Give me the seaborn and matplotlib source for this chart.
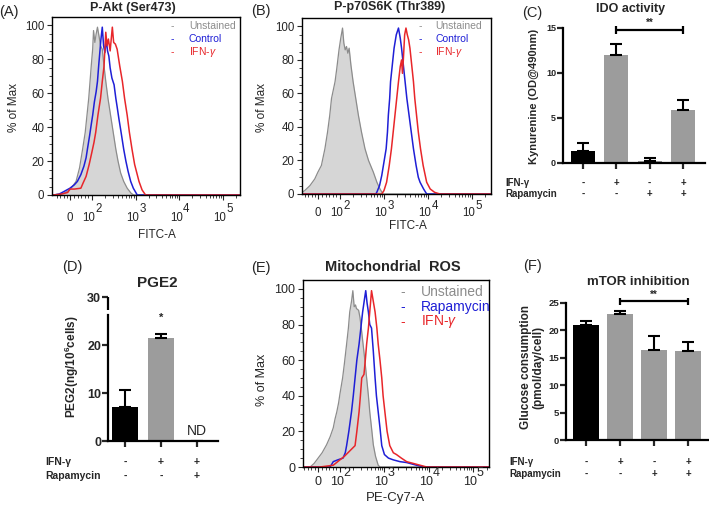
import numpy as np
import pandas as pd
import matplotlib
matplotlib.use("Agg")
import matplotlib.pyplot as plt
import matplotlib.transforms as mtransforms
import seaborn as sns

sns.set_style("ticks")
plt.rcParams["font.family"] = ["Liberation Sans", "DejaVu Sans"]
plt.rcParams["mathtext.fontset"] = "custom"
plt.rcParams["mathtext.rm"] = "Liberation Sans"
plt.rcParams["mathtext.it"] = "Liberation Sans:italic"
plt.rcParams["mathtext.bf"] = "Liberation Sans:bold"
plt.rcParams["mathtext.default"] = "regular"

# ---- histogram data: x = decade position on the biexponential axis, y = % of Max ----
a_unst_x = [1.12, 1.36, 1.5, 1.64, 1.72, 1.79, 1.85, 1.89, 1.93, 1.96, 1.99, 2.02, 2.04, 2.07, 2.10, 2.13, 2.17, 2.20,
            2.24, 2.28, 2.32, 2.37, 2.43, 2.49, 2.55, 2.60, 2.66, 2.73, 2.81, 2.90, 2.96, 5.40]
a_unst_y = [0, 1, 3, 8, 16, 27, 37, 47, 57, 67, 77, 86, 97, 90, 95, 99, 93, 88,
            86, 76, 67, 57, 47, 37, 27, 20, 13, 8, 4, 1, 0, 0]
a_ctrl_x = [1.12, 1.25, 1.36, 1.5, 1.6, 1.67, 1.75, 1.82, 1.87, 1.9, 1.95, 1.99, 2.02, 2.06, 2.10, 2.13, 2.16, 2.19, 2.21,
            2.24, 2.27, 2.30, 2.33, 2.36, 2.39, 2.42, 2.46, 2.51, 2.55, 2.58, 2.62, 2.67, 2.73, 2.78, 2.83, 2.89, 2.95,
            3.04, 5.40]
a_ctrl_y = [0, 0.5, 2, 4, 6, 8, 12, 17, 22, 27, 35, 42, 47, 55, 61, 67, 77, 86, 92,
            99, 88, 84, 92, 85, 82, 75, 69, 65, 57, 52, 45, 37, 27, 20, 14, 8, 4,
            0, 0]
a_ifn_x = [1.12, 1.3, 1.45, 1.5, 1.6, 1.75, 1.8, 1.87, 1.94, 2.0, 2.05, 2.09, 2.14, 2.20, 2.24, 2.28, 2.30, 2.32, 2.35,
           2.38, 2.42, 2.47, 2.50, 2.54, 2.58, 2.64, 2.70, 2.75, 2.81, 2.86, 2.92, 2.98, 3.03, 3.08, 3.15, 3.23, 5.40]
a_ifn_y = [0, 0.5, 1.5, 3.5, 3.5, 4, 7, 11, 18, 25, 31, 37, 47, 57, 67, 76, 86, 96, 88,
           92, 85, 99, 90, 89, 86, 76, 67, 57, 47, 37, 27, 18, 13, 8, 3, 0, 0]

b_unst_x = [1.14, 1.2, 1.32, 1.43, 1.5, 1.58, 1.66, 1.72, 1.77, 1.81, 1.85, 1.89, 1.93, 1.98, 2.02, 2.06, 2.09, 2.12,
            2.15, 2.18, 2.21, 2.25, 2.30, 2.36, 2.42, 2.49, 2.57, 2.65, 2.76, 2.84, 2.91, 2.98, 5.43]
b_unst_y = [1, 2, 5, 9, 13, 17, 27, 37, 47, 57, 62, 67, 75, 86, 93, 99, 90, 86,
            88, 84, 87, 77, 67, 57, 47, 37, 27, 20, 13, 7, 3, 0, 0]
b_ctrl_x = [1.14, 2.80, 2.83, 2.9, 2.95, 3.0, 3.05, 3.08, 3.10, 3.13, 3.15, 3.19, 3.23, 3.28, 3.33, 3.37, 3.40, 3.44,
            3.48, 3.52, 3.57, 3.62, 3.67, 3.73, 3.78, 3.82, 3.90, 3.97, 5.43]
b_ctrl_y = [0, 0, 0.5, 5, 11, 19, 27, 37, 47, 57, 67, 77, 87, 95, 99, 93, 87, 77,
            67, 57, 47, 37, 27, 17, 10, 7, 3, 0, 0]
b_ifn_x = [1.14, 2.95, 3.0, 3.06, 3.12, 3.17, 3.21, 3.25, 3.29, 3.33, 3.37, 3.40, 3.42, 3.44, 3.47, 3.50, 3.53, 3.56,
           3.59, 3.63, 3.67, 3.70, 3.74, 3.78, 3.83, 3.89, 3.97, 4.05, 4.15, 4.27, 5.43]
b_ifn_y = [0, 0, 2, 7, 17, 27, 37, 47, 57, 67, 76, 80, 72, 80, 95, 99, 95, 92,
           87, 77, 67, 57, 47, 37, 27, 17, 7, 3, 1, 0, 0]

e_unst_x = [1.17, 1.33, 1.42, 1.51, 1.6, 1.70, 1.78, 1.85, 1.89, 1.93, 1.97, 2.0, 2.06, 2.10, 2.15, 2.19, 2.22, 2.26,
            2.29, 2.32, 2.35, 2.37, 2.42, 2.45, 2.48, 2.52, 2.56, 2.60, 2.64, 2.67, 2.71, 2.75, 2.80, 2.86, 2.9, 5.35]
e_unst_y = [0, 0, 2, 5, 8, 12.5, 17, 22, 27, 31, 36, 41, 50, 58, 69, 78, 87, 93,
            99, 90, 91, 89, 88, 84, 78, 69, 60, 50, 40, 31, 22, 12.5, 6, 1, 0, 0]
e_rapa_x = [1.17, 1.78, 1.85, 1.95, 2.07, 2.12, 2.15, 2.2, 2.26, 2.30, 2.34, 2.38, 2.43, 2.47, 2.51, 2.55, 2.58, 2.61,
            2.64, 2.67, 2.71, 2.75, 2.79, 2.82, 2.86, 2.9, 2.94, 3.0, 3.09, 3.2, 3.35, 3.5, 3.72, 3.9, 5.35]
e_rapa_y = [0, 0, 3, 4, 5, 8, 12, 20, 31, 40, 50, 60, 69, 78, 87, 94, 99, 92,
            87, 80, 78, 65, 50, 40, 31, 22, 12, 7, 5, 4, 3, 2.5, 1, 0, 0]
e_ifn_x = [1.17, 1.55, 1.85, 2.0, 2.1, 2.22, 2.34, 2.38, 2.43, 2.46, 2.49, 2.54, 2.57, 2.60, 2.64, 2.67, 2.69, 2.71,
           2.75, 2.79, 2.83, 2.86, 2.9, 2.94, 2.97, 3.01, 3.06, 3.12, 3.2, 3.27, 3.38, 3.5, 3.65, 3.8, 3.95, 5.35]
e_ifn_y = [0, 0, 1, 4, 6, 9, 12, 20, 31, 40, 50, 52, 60, 69, 78, 87, 93, 99,
           93, 87, 78, 69, 60, 50, 40, 31, 20, 12, 8, 7, 5, 3, 2, 1, 0, 0]

# axis decades labelled on the flow histograms
decades = [2, 3, 4, 5]

# ---- bar data ----
ido_groups = ["ctrl", "ifn", "rapa", "ifn+rapa"]
ido_mean = [1.3, 12.0, 0.2, 5.9]
ido_err = [0.9, 1.2, 0.3, 1.1]

pge_groups = ["ctrl", "ifn", "ifn+rapa"]
pge_mean = [7.1, 21.5, 0.0]
pge_err = [3.5, 0.8, 0.0]

glc_groups = ["ctrl", "ifn", "rapa", "ifn+rapa"]
glc_mean = [21.0, 23.0, 16.5, 16.3]
glc_err = [0.8, 0.6, 2.4, 1.5]

ifn_row4 = ["-", "+", "-", "+"]
rapa_row4 = ["-", "-", "+", "+"]
ifn_row3 = ["-", "+", "+"]
rapa_row3 = ["-", "-", "+"]

W, H = 709, 513
fig = plt.figure(figsize=(W / 100, H / 100), dpi=100)


def box(x0, y0, x1, y1):
    return [x0 / W, 1 - y1 / H, (x1 - x0) / W, (y1 - y0) / H]


def ftext(x, y, s, **kw):
    kw.setdefault("ha", "center")
    kw.setdefault("va", "center")
    fig.text(x / W, 1 - y / H, s, **kw)


GRAY_LINE = "#8c8c8c"
BLUE = "#1f1fd6"
RED = "#e8262a"


def histo(rect, xlim, curves, unst, legend, leg_pos, leg_size, tick_size, lab_dy):
    ax = fig.add_axes(box(*rect))
    ux, uy = unst
    ax.fill_between(ux, uy, color="#d6d6d6", lw=0)
    sns.lineplot(x=ux, y=uy, ax=ax, color=GRAY_LINE, lw=0.9, sort=False, estimator=None)
    for (cx, cy), col in curves:
        sns.lineplot(x=cx, y=cy, ax=ax, color=col, lw=1.1, sort=False, estimator=None)
    ax.set_xlim(*xlim)
    ax.set_ylim(0, 105)
    ax.set_xticks([1.5] + decades)
    ax.set_xticklabels([])
    minors = [1.2, 1.28, 1.36, 1.44, 1.6, 1.68, 1.76, 1.84, 1.92]
    for d in decades[:-1]:
        minors += [d + np.log10(k) for k in range(2, 10)]
    minors += [5 + np.log10(2)]
    ax.set_xticks([m for m in minors if xlim[0] < m < xlim[1]], minor=True)
    ax.set_yticks([0, 20, 40, 60, 80, 100])
    ax.set_yticks(np.arange(0, 105, 5), minor=True)
    ax.tick_params(which="major", direction="out", length=3.5, width=0.8, labelsize=tick_size, pad=2)
    ax.tick_params(which="minor", direction="out", length=2, width=0.6)
    for sp in ax.spines.values():
        sp.set_color("black")
        sp.set_linewidth(1.0)
    ax.set_xlabel("")
    ax.set_ylabel("")
    # "0", "10^n" labels with a full size raised exponent
    dy10, dysup = lab_dy
    tr = mtransforms.blended_transform_factory(ax.transData, ax.transAxes)
    lsize = tick_size
    ax.text(1.5, 0, "0", transform=mtransforms.offset_copy(tr, fig=fig, x=0, y=-dy10, units="dots"),
            ha="center", va="center", fontsize=lsize, clip_on=False)
    for d in decades:
        ax.text(d, 0, "10", transform=mtransforms.offset_copy(tr, fig=fig, x=-3, y=-dy10, units="dots"),
                ha="center", va="center", fontsize=lsize, clip_on=False)
        ax.text(d, 0, str(d), transform=mtransforms.offset_copy(tr, fig=fig, x=7, y=-dysup, units="dots"),
                ha="center", va="center", fontsize=lsize, clip_on=False)
    lx, tx, ys = leg_pos
    for (name, col), y in zip(legend, ys):
        ftext(lx, y, "-", color=col, fontsize=leg_size)
        ftext(tx, y, name, color=col, fontsize=leg_size, ha="left")
    return ax


ifn_label = r"IFN-$\mathit{\gamma}$"

histo((52, 17, 240, 195), (1.09, 5.39),
      [((a_ctrl_x, a_ctrl_y), BLUE), ((a_ifn_x, a_ifn_y), RED)], (a_unst_x, a_unst_y),
      [("Unstained", GRAY_LINE), ("Control", BLUE), (ifn_label, RED)],
      (172, 189, [26, 39, 52]), 7.5, 8.3, (23, 14))
histo((302, 18, 491, 194), (1.14, 5.43),
      [((b_ctrl_x, b_ctrl_y), BLUE), ((b_ifn_x, b_ifn_y), RED)], (b_unst_x, b_unst_y),
      [("Unstained", GRAY_LINE), ("Control", BLUE), (ifn_label, RED)],
      (420, 435, [26, 39, 52]), 7.5, 8.3, (19, 12))
histo((303, 280, 489, 467), (1.17, 5.35),
      [((e_rapa_x, e_rapa_y), BLUE), ((e_ifn_x, e_ifn_y), RED)], (e_unst_x, e_unst_y),
      [("Unstained", GRAY_LINE), ("Rapamycin", BLUE), (ifn_label, RED)],
      (403, 421, [292, 307, 322]), 10, 9, (15, 6))

# histogram labels
ftext(14, 108, "% of Max", rotation=90, fontsize=8.5)
ftext(262, 108, "% of Max", rotation=90, fontsize=8.5)
ftext(262, 380, "% of Max", rotation=90, fontsize=9)
ftext(157, 235, "FITC-A", fontsize=8.5)
ftext(408, 226, "FITC-A", fontsize=8.5)
ftext(395, 498, "PE-Cy7-A", fontsize=9.5)


def bars(rect, xlim, ylim, yticks, groups, mean, err, colors, tick_size, width):
    ax = fig.add_axes(box(*rect))
    df = pd.DataFrame({"group": groups, "value": mean})
    sns.barplot(data=df, x="group", y="value", hue="group", palette=colors, order=groups,
                width=width, saturation=1, ax=ax, legend=False, edgecolor="none")
    pos = np.arange(len(groups))
    ax.errorbar(pos, mean, yerr=[np.zeros(len(err)), err], fmt="none", ecolor="black",
                elinewidth=1.5, capsize=4.5, capthick=1.5)
    ax.set_xlim(*xlim)
    ax.set_ylim(*ylim)
    ax.set_yticks(yticks)
    ax.set_xticks(pos)
    ax.set_xticklabels([])
    ax.set_xlabel("")
    ax.set_ylabel("")
    sns.despine(ax=ax)
    for sp in ["left", "bottom"]:
        ax.spines[sp].set_linewidth(1.6)
        ax.spines[sp].set_color("black")
    ax.tick_params(direction="out", length=4, width=1.6, labelsize=tick_size, pad=1)
    for lab in ax.get_yticklabels():
        lab.set_fontweight("bold")
    return ax


def table(ax, rows, ys, label_x, size):
    tr = mtransforms.blended_transform_factory(ax.transData, fig.transFigure)
    for (name, signs), y in zip(rows, ys):
        ftext(label_x, y, name, ha="left", fontsize=size, fontweight="bold")
        for i, s in enumerate(signs):
            ax.text(i, 1 - y / H, s, transform=tr, ha="center", va="center",
                    fontsize=size, fontweight="bold", clip_on=False)


def bracket(ax, x0, x1, y, dy, star_y, stars):
    kw = dict(color="black", lw=1.6, clip_on=False, solid_capstyle="butt")
    ax.plot([x0, x1], [y, y], **kw)
    ax.plot([x0, x0], [y - dy, y + dy], **kw)
    ax.plot([x1, x1], [y - dy, y + dy], **kw)
    ax.text((x0 + x1) / 2, star_y, stars, ha="center", va="center", fontsize=7, fontweight="bold")


DARK = "#000000"
LIGHT = "#9c9c9c"

# (C) IDO activity
axc = bars((563, 27.7, 705, 162.7), (-0.6, 3.66), (0, 15), [0, 5, 10, 15],
           ido_groups, ido_mean, ido_err, [DARK, LIGHT, LIGHT, LIGHT], 6.5, 0.72)
bracket(axc, 1, 3, 14.7, 0.45, 15.5, "**")
table(axc, [("IFN-\u03b3", ifn_row4), ("Rapamycin", rapa_row4)], [183, 194], 505, 7)
ftext(534, 96, "Kynurenine (OD@490nm)", rotation=90, fontsize=8, fontweight="bold")

# (D) PGE2
axd = bars((108, 297, 218, 441), (-0.47, 2.58), (0, 30), [0, 10, 20, 30],
           pge_groups, pge_mean, pge_err, [DARK, LIGHT, LIGHT], 9, 0.71)
axd.spines["left"].set_bounds(0, 26.2)
ytr = mtransforms.blended_transform_factory(axd.transAxes, axd.transData)
axd.plot([0, 0], [27.3, 30], transform=ytr, color="black", lw=1.6, clip_on=False, solid_capstyle="butt")
axd.text(1, 25.6, "*", ha="center", va="center", fontsize=8, fontweight="bold")
axd.text(2, 2.0, "ND", ha="center", va="center", fontsize=10)
table(axd, [("IFN-\u03b3", ifn_row3), ("Rapamycin", rapa_row3)], [462, 476], 45, 7.5)
ftext(72, 367, r"PEG2(ng/10$^{6}$cells)", rotation=90, fontsize=8.5, fontweight="bold")

# (F) mTOR inhibition
axf = bars((566, 303, 708, 440), (-0.59, 3.59), (0, 25), [0, 5, 10, 15, 20, 25],
           glc_groups, glc_mean, glc_err, [DARK, LIGHT, LIGHT, LIGHT], 6.8, 0.74)
bracket(axf, 1, 3, 25.3, 0.7, 26.5, "**")
table(axf, [("IFN-\u03b3", ifn_row4), ("Rapamycin", rapa_row4)], [462, 474], 509, 7)
ftext(532, 367, "Glucose consumption\n(pmol/day/cell)", rotation=90, fontsize=8.5,
      fontweight="bold", linespacing=1.0)

# titles and panel letters
ftext(133, 8, "P-Akt (Ser473)", fontsize=9, fontweight="bold")
ftext(390, 7, "P-p70S6K (Thr389)", fontsize=9, fontweight="bold")
ftext(631, 9, "IDO activity", fontsize=9, fontweight="bold")
ftext(157, 283, "PGE2", fontsize=11, fontweight="bold")
ftext(393, 267, "Mitochondrial  ROS", fontsize=10.5, fontweight="bold")
ftext(638, 282, "mTOR inhibition", fontsize=9.5, fontweight="bold")
for s, x, y in [("(A)", 9, 12), ("(B)", 261, 11), ("(C)", 532, 13),
                ("(D)", 72, 267), ("(E)", 261, 268), ("(F)", 532, 266)]:
    ftext(x, y, s, fontsize=10.5)

fig.savefig("out.png", dpi=100)
